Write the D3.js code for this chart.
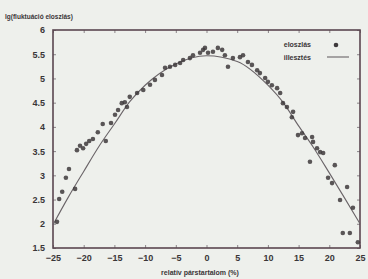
<!DOCTYPE html>
<html>
<head>
<meta charset="utf-8">
<script src="https://cdn.jsdelivr.net/npm/d3@7"></script>
<style>
  body { margin: 0; background: #eef0ec; }
  svg text { font-family: "Liberation Sans", Arial, sans-serif; font-weight: bold; fill: #3a3638; }
</style>
</head>
<body>
<div id="chart"></div>
<script>
// measured points (relative pair content %, lg of distribution)
const pointX = [-24.35, -24.0, -23.5, -22.9, -22.4, -21.4, -21.1, -20.6, -20.1, -19.6, -19.1, -18.5,
  -17.7, -16.9, -16.4, -15.55, -14.9, -14.4, -13.8, -13.3, -12.95, -12.5, -11.3, -10.3, -9.2, -8.4,
  -7.25, -6.75, -5.95, -5.1, -4.3, -3.8, -2.7, -2.2, -1.05, -0.55, -0.25, 0.25, 1.05, 1.85, 2.55,
  3.0, 3.5, 4.3, 5.45, 5.95, 6.75, 7.4, 8.25, 8.7, 9.55, 10.0, 10.65, 11.5, 12.0, 12.45, 13.1, 14.1,
  13.9, 14.9, 15.55, 16.05, 16.85, 17.2, 17.35, 18.0, 18.5, 19.0, 19.8, 20.45, 20.9, 21.75, 22.9,
  23.85, 22.2, 23.35, 24.65];
const pointY = [2.04, 2.51, 2.66, 2.95, 3.13, 2.72, 3.52, 3.61, 3.56, 3.65, 3.71, 3.75,
  3.89, 4.06, 3.71, 4.08, 4.25, 4.35, 4.49, 4.51, 4.41, 4.62, 4.70, 4.76, 4.87, 4.97,
  5.07, 5.22, 5.24, 5.28, 5.32, 5.38, 5.42, 5.48, 5.53, 5.59, 5.63, 5.53, 5.55, 5.63, 5.59,
  5.48, 5.24, 5.42, 5.44, 5.48, 5.34, 5.28, 5.17, 5.11, 5.01, 4.93, 4.86, 4.80, 4.70, 4.49, 4.41, 4.31,
  4.20, 3.83, 3.87, 3.77, 3.28, 3.79, 3.69, 3.56, 3.48, 3.46, 2.95, 2.84, 3.21, 2.49, 2.76,
  2.33, 1.81, 1.81, 1.62];

// fitted curve, read at sample positions
const fitX = [-25, -22.5, -20, -17.5, -15, -12.5, -10, -5, 0, 5, 10, 12.5, 15, 17.5, 20, 22.5, 25];
const fitY = [1.98, 2.55, 3.08, 3.6, 4.06, 4.52, 4.86, 5.3, 5.47, 5.35, 4.86, 4.5, 4.02, 3.56, 3.05, 2.53, 2.0];

const xTicks = [-25, -20, -15, -10, -5, 0, 5, 10, 15, 20, 25];
const yTicks = [1.5, 2, 2.5, 3, 3.5, 4, 4.5, 5, 5.5, 6];
const legendLabels = ['eloszlás', 'illesztés'];

const width = 368;
const height = 279;
const margin = {top: 30, right: 8, bottom: 31, left: 53};
const frameColor = '#5a4750';
const inkColor = '#3c383a';

const svg = d3.select('#chart')
  .append('svg')
  .attr('width', width)
  .attr('height', height);

svg.append('rect')
  .attr('width', width)
  .attr('height', height)
  .attr('fill', '#eef0ec');

const x = d3.scaleLinear().domain([-25, 25]).range([margin.left, width - margin.right]);
const y = d3.scaleLinear().domain([1.5, 6]).range([height - margin.bottom, margin.top]);

// gnuplot style ticks, inward on all four sides
const tickLen = 3;
const axisStyle = (g) => {
  g.select('.domain').remove();
  g.selectAll('.tick line').attr('stroke', '#8a8488').attr('stroke-width', 1);
  g.selectAll('.tick text').attr('font-size', 9).attr('fill', inkColor);
};

svg.append('g')
  .attr('transform', `translate(0,${height - margin.bottom})`)
  .call(d3.axisBottom(x).tickValues(xTicks).tickSize(-tickLen).tickPadding(7).tickFormat(d3.format('d')))
  .call(axisStyle);

svg.append('g')
  .attr('transform', `translate(0,${margin.top})`)
  .call(d3.axisTop(x).tickValues(xTicks).tickSize(-tickLen).tickFormat(''))
  .call(axisStyle);

svg.append('g')
  .attr('transform', `translate(${margin.left},0)`)
  .call(d3.axisLeft(y).tickValues(yTicks).tickSize(-tickLen).tickPadding(8).tickFormat((d) => d))
  .call(axisStyle);

svg.append('g')
  .attr('transform', `translate(${width - margin.right},0)`)
  .call(d3.axisRight(y).tickValues(yTicks).tickSize(-tickLen).tickFormat(''))
  .call(axisStyle);

// frame
svg.append('rect')
  .attr('x', margin.left)
  .attr('y', margin.top)
  .attr('width', width - margin.left - margin.right)
  .attr('height', height - margin.top - margin.bottom)
  .attr('fill', 'none')
  .attr('stroke', frameColor)
  .attr('stroke-width', 1.6);

// fit line
const line = d3.line()
  .x((d, i) => x(fitX[i]))
  .y((d) => y(d))
  .curve(d3.curveMonotoneX);

svg.append('path')
  .datum(fitY)
  .attr('d', line)
  .attr('fill', 'none')
  .attr('stroke', '#6a6468')
  .attr('stroke-width', 1.1);

// points
svg.selectAll('.pt')
  .data(pointY)
  .enter()
  .append('circle')
  .attr('class', 'pt')
  .attr('cx', (d, i) => x(pointX[i]))
  .attr('cy', (d) => y(d))
  .attr('r', 2.3)
  .attr('fill', '#3e3a3c')
  .attr('opacity', 0.85);

// legend
const legend = svg.append('g').attr('transform', 'translate(311,0)');
legend.selectAll('text')
  .data(legendLabels)
  .enter()
  .append('text')
  .attr('x', 0)
  .attr('y', (d, i) => 47 + i * 13)
  .attr('text-anchor', 'end')
  .attr('font-size', 7)
  .attr('fill', inkColor)
  .text((d) => d);

legend.append('circle')
  .attr('cx', 25)
  .attr('cy', 45)
  .attr('r', 2.3)
  .attr('fill', '#3e3a3c');

legend.append('line')
  .attr('x1', 16)
  .attr('x2', 38)
  .attr('y1', 57)
  .attr('y2', 57)
  .attr('stroke', '#6a6468')
  .attr('stroke-width', 1.1);

// Title
svg.append('text')
  .attr('x', 5)
  .attr('y', 19)
  .attr('font-size', 6.5)
  .attr('fill', inkColor)
  .text('lg(fluktuáció eloszlás)');

// x label
svg.append('text')
  .attr('x', 200)
  .attr('y', 275)
  .attr('text-anchor', 'middle')
  .attr('font-size', 7)
  .attr('fill', inkColor)
  .text('relatív párstartalom (%)');
</script>
</body>
</html>
